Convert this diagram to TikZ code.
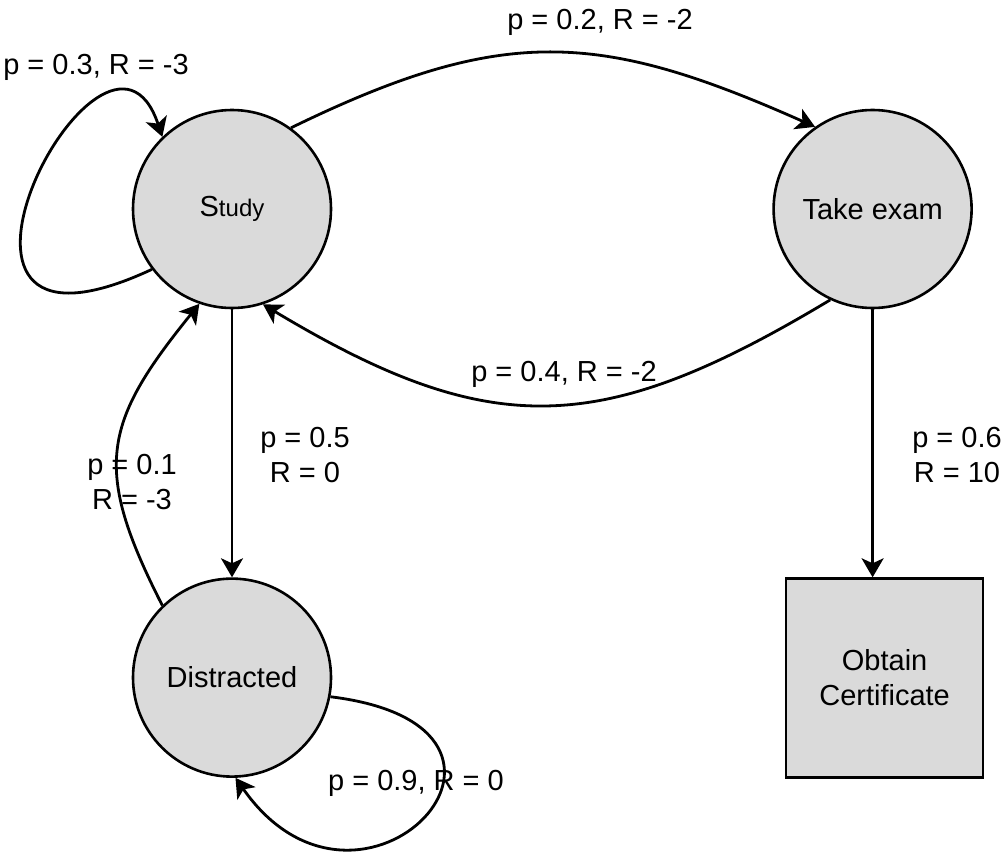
\documentclass[tikz,border=0pt]{standalone}
\usepackage{fontspec}
\setmainfont{Liberation Sans}
\usetikzlibrary{positioning}
\usetikzlibrary{arrows.meta}
\definecolor{statefill}{RGB}{218,218,218}

\begin{document}
\begin{tikzpicture}[x=0.5pt,y=-0.5pt,
    state/.style={circle, draw, line width=1.3pt, fill=statefill, minimum size=99pt, inner sep=0pt, font=\fontsize{14.5}{17.5}\selectfont},
    goal/.style={rectangle, draw, line width=1.3pt, fill=statefill, minimum width=98.5pt, minimum height=99.5pt, align=center, font=\fontsize{14.5}{17.5}\selectfont},
    lbl/.style={align=center, inner sep=0pt, font=\fontsize{14.5}{17.5}\selectfont},
    trans/.style={line width=1.4pt, -{Stealth[length=9.5pt,width=11pt,inset=2.5pt]}},
    node distance=134pt]
        \useasboundingbox (0,0) rectangle (1005,851);
        % States
        \node[state]                            (study)      at (232,209) {S{\fontsize{12}{14}\selectfont tudy}};
        \node[state, right=220pt of study]      (exam)       {Take exam};
        \node[state, below=of study]            (distracted) {Distracted};
        \node[goal, below=of exam, xshift=6pt]  (cert)       {Obtain\\Certificate};
        % Transitions
        \draw[trans] (study.217) to[out=205, in=108.5, out distance=150pt, in distance=90pt] (study.134);
        \draw[trans] (study.54) to[out=26, in=156, looseness=1.15] (exam.125);
        \draw[trans] (exam.245) to[out=211, in=-31, looseness=1.2] (study.288);
        \draw[trans] (study) -- (distracted);
        \draw[trans] (distracted.134) to[out=117, in=231, looseness=1.3] (study.251);
        \draw[trans] (distracted.349) to[out=-7, in=-55, out distance=125pt, in distance=110pt] (distracted.272);
        \draw[trans] (exam) -- (exam |- cert.north);
        % Labels
        \node[lbl, anchor=base] (l-ss) at (96,74)   {p = 0.3, R = -3};
        \node[lbl, anchor=base] (l-se) at (600,29)  {p = 0.2, R = -2};
        \node[lbl, anchor=base] (l-es) at (564,381) {p = 0.4, R = -2};
        \node[lbl]              (l-sd) at (305,455) {p = 0.5\\R = 0};
        \node[lbl]              (l-ds) at (132,482) {p = 0.1\\R = -3};
        \node[lbl, anchor=base] (l-dd) at (416,790) {p = 0.9, R = 0};
        \node[lbl]              (l-ec) at (957,455) {p = 0.6\\R = 10};
\end{tikzpicture}
\end{document}
